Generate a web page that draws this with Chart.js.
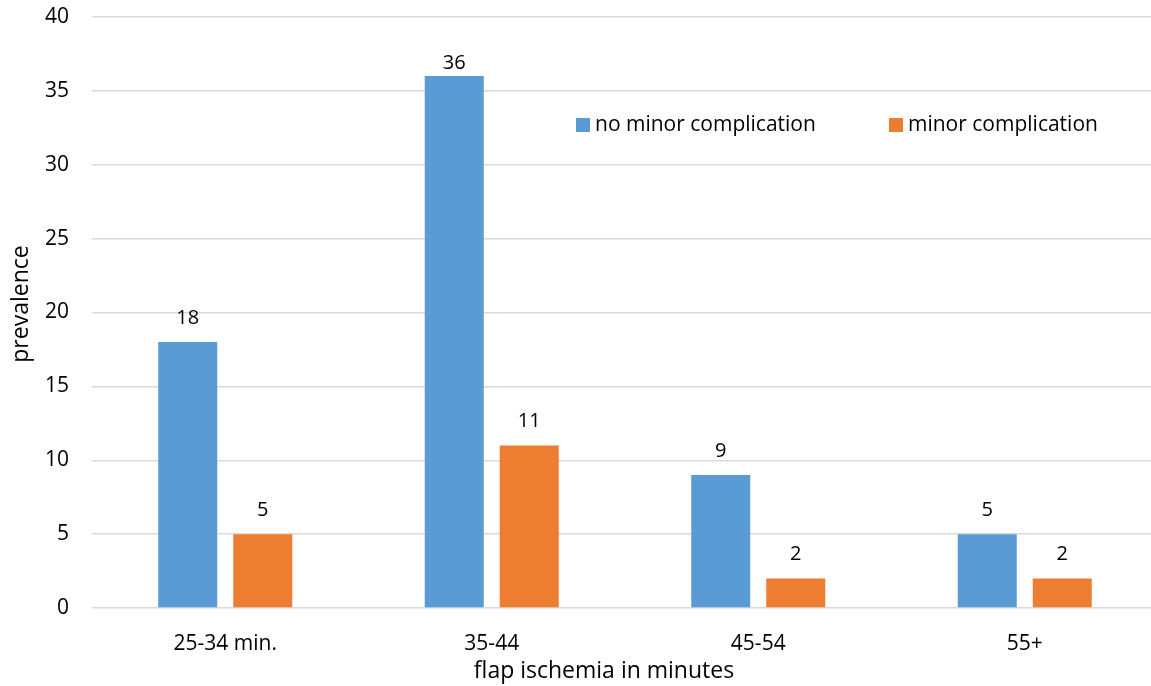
<!DOCTYPE html>
<html><head><meta charset="utf-8">
<script src="https://cdn.jsdelivr.net/npm/chart.js@4.4.1/dist/chart.umd.min.js"></script>
<style>html,body{margin:0;padding:0;overflow:hidden;background:#fff}#wrap{width:1158px;height:686px}</style>
</head><body><div id="wrap"><canvas id="c" width="1158" height="686"></canvas></div>
<script>
const categories = ['25-34 min.', '35-44', '45-54', '55+'];
const noMinorComplication = [18, 36, 9, 5];
const minorComplication = [5, 11, 2, 2];
const seriesNames = ['no minor complication', 'minor complication'];
const yAxisTitle = 'prevalence';
const xAxisTitle = 'flap ischemia in minutes';

const FONT = '"Open Sans", Lato, sans-serif';
const TEXT = '#000000';
const BLUE = '#5B9BD5';
const ORANGE = '#ED7D31';

const labelPlugin = {
  id: 'extras',
  afterDatasetsDraw(chart) {
    const ctx = chart.ctx;
    const area = chart.chartArea;
    ctx.save();
    ctx.fillStyle = TEXT;
    ctx.font = '20px ' + FONT;
    ctx.textAlign = 'center';
    ctx.textBaseline = 'alphabetic';
    chart.data.datasets.forEach((ds, i) => {
      chart.getDatasetMeta(i).data.forEach((bar, j) => {
        const y = Math.max(bar.y - 18, area.top + 52);
        ctx.fillText(String(ds.data[j]), bar.x, y);
      });
    });
    // legend
    const items = [[576, 595], [889, 908]];
    ctx.textAlign = 'left';
    ctx.textBaseline = 'middle';
    ctx.font = '21px ' + FONT;
    chart.data.datasets.forEach((ds, i) => {
      const [bx, tx] = items[i];
      ctx.fillStyle = ds.backgroundColor;
      ctx.fillRect(bx, 118, 14, 14);
      ctx.fillStyle = TEXT;
      ctx.fillText(ds.label, tx, 125);
    });
    // axis titles
    ctx.textAlign = 'center';
    ctx.font = '23px ' + FONT;
    ctx.fillText(xAxisTitle, 604, 671);
    ctx.translate(21, 304);
    ctx.rotate(-Math.PI / 2);
    ctx.fillText(yAxisTitle, 0, 0);
    ctx.restore();
  }
};

new Chart(document.getElementById('c'), {
  type: 'bar',
  data: {
    labels: categories,
    datasets: [
      { label: seriesNames[0], data: noMinorComplication, backgroundColor: BLUE,
        categoryPercentage: 0.5629, barPercentage: 0.787 },
      { label: seriesNames[1], data: minorComplication, backgroundColor: ORANGE,
        categoryPercentage: 0.5629, barPercentage: 0.787 }
    ]
  },
  options: {
    responsive: false,
    animation: false,
    layout: { padding: { top: 17, right: 0, left: 0, bottom: 0 } },
    plugins: { legend: { display: false }, tooltip: { enabled: false } },
    scales: {
      x: {
        grid: { display: false, drawTicks: false },
        border: { display: false },
        ticks: { color: TEXT, font: { family: FONT, size: 21 }, padding: 23 },
        afterFit: (s) => { s.height = 78; s.paddingLeft = 0; s.paddingRight = 0; }
      },
      y: {
        min: 0, max: 40,
        ticks: { stepSize: 5, color: TEXT, font: { family: FONT, size: 21 }, padding: 23 },
        grid: { color: '#d9d9d9', lineWidth: 1.5, drawTicks: false },
        border: { display: false },
        afterFit: (s) => { s.width = 92; s.paddingTop = 0; s.paddingBottom = 0; }
      }
    }
  },
  plugins: [labelPlugin]
});
</script>
</body></html>
